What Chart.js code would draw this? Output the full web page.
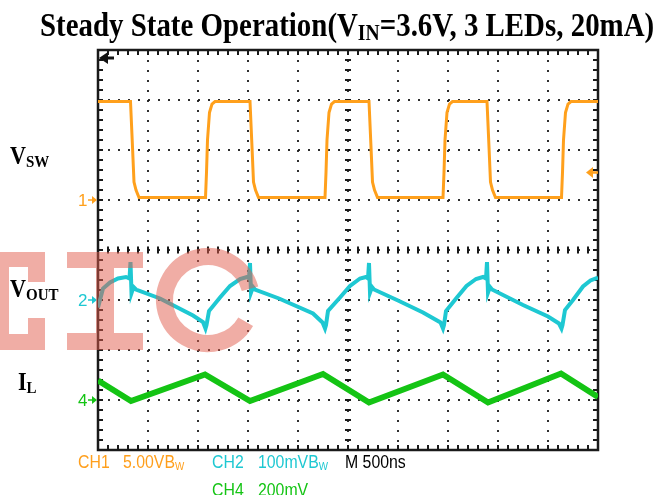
<!DOCTYPE html>
<html>
<head>
<meta charset="utf-8">
<script src="https://cdn.jsdelivr.net/npm/chart.js@4.4.1/dist/chart.umd.min.js"></script>
<style>
html,body{margin:0;padding:0;background:#fff;}
#wrap{position:relative;width:659px;height:495px;overflow:hidden;}
#scope{position:absolute;left:0;top:0;}
.t{position:absolute;white-space:nowrap;line-height:1;transform-origin:0 0;}
.serif{font-family:"Liberation Serif","Times New Roman",serif;font-weight:bold;color:#000;}
.mono{font-family:"Liberation Sans",Arial,sans-serif;font-size:18px;transform:scaleX(0.88);}
.serif sub{font-size:68%;vertical-align:baseline;position:relative;top:0.16em;}
.mono sub{font-size:62%;vertical-align:baseline;position:relative;top:0.2em;}
</style>
</head>
<body>
<div id="wrap">
  <canvas id="scope" width="659" height="495"></canvas>

  <div class="t serif" style="left:40px;top:8px;font-size:34px;transform:scaleX(0.85);">Steady State Operation(V<sub>IN</sub>=3.6V, 3 LEDs, 20mA)</div>

  <div class="t serif" style="left:10px;top:143px;font-size:26px;transform:scaleX(0.85);">V<sub>SW</sub></div>
  <div class="t serif" style="left:10px;top:276px;font-size:26px;transform:scaleX(0.85);">V<sub>OUT</sub></div>
  <div class="t serif" style="left:18px;top:369px;font-size:26px;transform:scaleX(0.85);">I<sub>L</sub></div>

  <div class="t mono" style="left:78px;top:453px;color:#FF9F1C;">CH1</div>
  <div class="t mono" style="left:123px;top:453px;color:#FF9F1C;">5.00VB<sub>W</sub></div>
  <div class="t mono" style="left:212px;top:453px;color:#1EC8D2;">CH2</div>
  <div class="t mono" style="left:258px;top:453px;color:#1EC8D2;">100mVB<sub>W</sub></div>
  <div class="t mono" style="left:345px;top:453px;color:#000;">M 500ns</div>
  <div class="t mono" style="left:212px;top:481px;color:#14C414;">CH4</div>
  <div class="t mono" style="left:258px;top:481px;color:#14C414;">200mV</div>
</div>

<script>
// ======================
// SCOPE DATA
// x = time in divisions (500ns/div, 10 div), y = screen divisions from bottom (8 div)
// ======================
const ch1X = [0, 0.65, 0.69, 0.72, 0.76, 0.82,
  2.15, 2.17, 2.19, 2.23, 2.28, 2.34,
  3.04, 3.08, 3.11, 3.15, 3.21,
  4.54, 4.56, 4.58, 4.62, 4.67, 4.73,
  5.42, 5.46, 5.49, 5.53, 5.59,
  6.90, 6.92, 6.94, 6.98, 7.03, 7.09,
  7.78, 7.82, 7.85, 7.89, 7.95,
  9.27, 9.29, 9.31, 9.35, 9.40, 9.46,
  10];
const ch1Y = [6.97, 6.97, 6.06, 5.36, 5.2, 5.05,
  5.05, 5.55, 6.2, 6.75, 6.92, 6.97,
  6.97, 6.06, 5.36, 5.2, 5.05,
  5.05, 5.55, 6.2, 6.75, 6.92, 6.97,
  6.97, 6.06, 5.36, 5.2, 5.05,
  5.05, 5.55, 6.2, 6.75, 6.92, 6.97,
  6.97, 6.06, 5.36, 5.2, 5.05,
  5.05, 5.55, 6.2, 6.75, 6.92, 6.97,
  6.97];

const ch2X = [0, 0.1, 0.24, 0.4, 0.56, 0.63, 0.65, 0.67, 0.71, 0.76,
  1.24, 1.9, 2.1, 2.15, 2.17,
  2.22, 2.44, 2.64, 2.84, 2.98, 3.02, 3.04, 3.06, 3.1, 3.14,
  3.62, 4.3, 4.49, 4.54, 4.56,
  4.6, 4.84, 5.04, 5.24, 5.36, 5.40, 5.42, 5.44, 5.48, 5.52,
  6.0, 6.5, 6.85, 6.9, 6.92,
  6.96, 7.17, 7.37, 7.56, 7.7, 7.76, 7.78, 7.8, 7.84, 7.88,
  8.5, 9.0, 9.22, 9.27, 9.29,
  9.34, 9.5, 9.7, 9.85, 10];
const ch2Y = [2.85, 3.23, 3.35, 3.43, 3.46, 3.43, 3.76, 3.14, 3.26, 3.21,
  3.03, 2.69, 2.56, 2.43, 2.5,
  2.78, 3.05, 3.28, 3.42, 3.46, 3.43, 3.74, 3.15, 3.26, 3.21,
  3.03, 2.73, 2.55, 2.43, 2.5,
  2.78, 3.05, 3.28, 3.43, 3.46, 3.43, 3.74, 3.15, 3.26, 3.21,
  2.99, 2.75, 2.55, 2.43, 2.5,
  2.78, 3.04, 3.28, 3.42, 3.46, 3.43, 3.76, 3.15, 3.26, 3.21,
  2.9, 2.67, 2.53, 2.43, 2.5,
  2.8, 3.0, 3.27, 3.39, 3.45];

const ch4X = [0, 0.66, 2.14, 3.04, 4.5, 5.42, 6.9, 7.8, 9.26, 10];
const ch4Y = [1.39, 0.98, 1.51, 0.98, 1.52, 0.95, 1.51, 0.95, 1.53, 1.06];

const chLabels = ["1", "2", "4"];
const chLevels = [5, 3, 1];      // ground marker of each channel
const chColors = ["#FFA01C", "#1EC8D2", "#14C414"];
const trigLevel = 5.55;          // CH1 trigger level marker
const xDivs = 10;
const yDivs = 8;

const pts = (xs, ys) => xs.map((x, i) => ({x: x, y: ys[i]}));

// ======================
// GRATICULE + MARKERS
// ======================
const graticule = {
  id: "graticule",
  beforeDatasetsDraw(chart) {
    const {ctx, chartArea: a, scales: {x, y}} = chart;
    const cx = x.getPixelForValue(xDivs / 2);
    const cy = y.getPixelForValue(yDivs / 2);
    ctx.save();
    ctx.fillStyle = "#1a1a1a";
    for (let i = 0; i <= xDivs * 5; i++) {
      const px = x.getPixelForValue(i / 5);
      ctx.fillRect(px - 1, a.top, 2, 5);
      ctx.fillRect(px - 1, a.bottom - 5, 2, 5);
      ctx.fillRect(px - 1, cy - 3.5, 2, 7);
    }
    for (let j = 0; j <= yDivs * 5; j++) {
      const py = y.getPixelForValue(j / 5);
      ctx.fillRect(a.left, py - 1, 5, 2);
      ctx.fillRect(a.right - 5, py - 1, 5, 2);
      ctx.fillRect(cx - 3, py - 1, 6, 2);
    }
    ctx.lineWidth = 2.5;
    ctx.strokeStyle = "#1a1a1a";
    ctx.strokeRect(a.left, a.top, a.right - a.left, a.bottom - a.top);
    ctx.restore();
  },
  afterDatasetsDraw(chart) {
    const {ctx, chartArea: a, scales: {y}} = chart;
    ctx.save();

    // channel ground markers "1->" etc
    ctx.font = '17px "Liberation Sans", sans-serif';
    ctx.textBaseline = "middle";
    chLabels.forEach((lab, k) => {
      const py = y.getPixelForValue(chLevels[k]);
      ctx.fillStyle = chColors[k];
      ctx.strokeStyle = chColors[k];
      ctx.fillText(lab, a.left - 20, py + 1);
      ctx.lineWidth = 1.5;
      ctx.beginPath(); ctx.moveTo(a.left - 10, py); ctx.lineTo(a.left - 3, py); ctx.stroke();
      ctx.beginPath(); ctx.moveTo(a.left - 1, py); ctx.lineTo(a.left - 6, py - 4); ctx.lineTo(a.left - 6, py + 4); ctx.fill();
    });

    // trigger level arrow (right edge)
    const ty = y.getPixelForValue(trigLevel);
    ctx.fillStyle = chColors[0];
    ctx.strokeStyle = chColors[0];
    ctx.beginPath(); ctx.moveTo(a.right - 12, ty); ctx.lineTo(a.right - 5, ty - 5.5); ctx.lineTo(a.right - 5, ty + 5.5); ctx.fill();
    ctx.lineWidth = 2.5;
    ctx.beginPath(); ctx.moveTo(a.right - 6, ty); ctx.lineTo(a.right, ty); ctx.stroke();

    // trigger position arrow (top left)
    ctx.fillStyle = "#111";
    ctx.strokeStyle = "#111";
    ctx.beginPath(); ctx.moveTo(a.left + 1, a.top + 8); ctx.lineTo(a.left + 10, a.top + 2); ctx.lineTo(a.left + 10, a.top + 14); ctx.fill();
    ctx.lineWidth = 3;
    ctx.beginPath(); ctx.moveTo(a.left + 9, a.top + 8); ctx.lineTo(a.left + 16, a.top + 8); ctx.stroke();

    // watermark "[IC"
    ctx.fillStyle = "rgba(226, 92, 76, 0.5)";
    ctx.beginPath();
    ctx.rect(0, 252, 45, 15);
    ctx.rect(0, 252, 9, 98);
    ctx.rect(0, 334, 45, 16);
    ctx.rect(28, 252, 17, 30);
    ctx.rect(28, 318, 17, 32);
    ctx.rect(67, 252, 76, 16);
    ctx.rect(96, 252, 18, 98);
    ctx.rect(67, 333, 76, 17);
    ctx.fill();
    ctx.strokeStyle = "rgba(226, 92, 76, 0.5)";
    ctx.lineWidth = 17;
    ctx.beginPath();
    ctx.arc(208, 300, 43.5, 30 * Math.PI / 180, 345 * Math.PI / 180);
    ctx.stroke();

    ctx.restore();
  }
};

// ======================
// CHART
// ======================
const gridOpts = {color: "rgba(25,25,25,0.9)", lineWidth: 2, drawTicks: false};
const borderOpts = {display: false, dash: [2, 8]};

new Chart(document.getElementById("scope"), {
  type: "line",
  data: {
    datasets: [
      {label: "CH1", data: pts(ch1X, ch1Y), borderColor: chColors[0], borderWidth: 3, pointRadius: 0, tension: 0},
      {label: "CH2", data: pts(ch2X, ch2Y), borderColor: chColors[1], borderWidth: 4, pointRadius: 0, tension: 0},
      {label: "CH4", data: pts(ch4X, ch4Y), borderColor: chColors[2], borderWidth: 6, pointRadius: 0, tension: 0}
    ]
  },
  options: {
    responsive: false,
    devicePixelRatio: 1,
    animation: false,
    layout: {padding: {left: 98, right: 61, top: 50, bottom: 45}},
    plugins: {legend: {display: false}, tooltip: {enabled: false}},
    scales: {
      x: {type: "linear", min: 0, max: xDivs, ticks: {display: false, stepSize: 1}, grid: gridOpts, border: borderOpts},
      y: {type: "linear", min: 0, max: yDivs, ticks: {display: false, stepSize: 1}, grid: gridOpts, border: borderOpts}
    }
  },
  plugins: [graticule]
});
</script>
</body>
</html>
